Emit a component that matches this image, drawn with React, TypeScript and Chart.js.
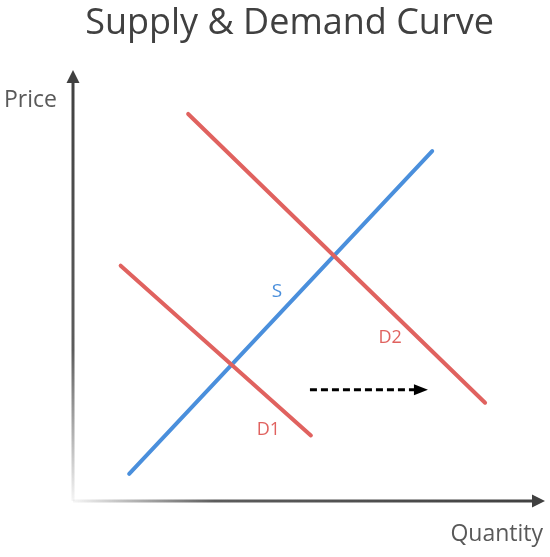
import React, { useEffect, useRef } from "react";
import { Chart, registerables } from "chart.js";

Chart.register(...registerables);

// Data space: quantity 0..100, price 0..100
const supplyX = [11.9, 76.1];
const supplyY = [6.3, 81.2];
const demand1X = [10.1, 50.4];
const demand1Y = [54.6, 15.2];
const demand2X = [24.4, 87.3];
const demand2Y = [89.8, 22.8];
const shiftX = [50.2, 75.2];
const shiftY = [25.8, 25.8];
const axisMax = 100;

const lineLabels = ["S", "D1", "D2"];
const labelX = [43.2, 41.4, 67.2];
const labelY = [48.6, 16.4, 37.9];

const titleText = "Supply & Demand Curve";
const xAxisLabel = "Quantity";
const yAxisLabel = "Price";

const BLUE = "#4a8fdc";
const RED = "#e0625f";
const FONT = "'Open Sans', 'Noto Sans', sans-serif";

const pts = (xs: number[], ys: number[]) => xs.map((x, i) => ({ x, y: ys[i] }));

const decorPlugin = {
  id: "decor",
  beforeDatasetsDraw(chart: any) {
    const { ctx, scales } = chart;
    const xs = scales.x;
    const ys = scales.y;
    const ox = xs.getPixelForValue(0);
    const oy = ys.getPixelForValue(0);
    const xEnd = xs.getPixelForValue(axisMax);
    const yEnd = ys.getPixelForValue(axisMax);
    ctx.save();
    // y axis
    let g = ctx.createLinearGradient(0, oy, 0, yEnd);
    g.addColorStop(0, "rgba(64,64,64,0.05)");
    g.addColorStop(0.35, "rgba(64,64,64,0.85)");
    g.addColorStop(1, "rgba(64,64,64,1)");
    ctx.strokeStyle = g;
    ctx.lineWidth = 3;
    ctx.beginPath();
    ctx.moveTo(ox, oy);
    ctx.lineTo(ox, yEnd + 10);
    ctx.stroke();
    ctx.fillStyle = "#404040";
    ctx.beginPath();
    ctx.moveTo(ox, yEnd);
    ctx.lineTo(ox - 6.5, yEnd + 13);
    ctx.lineTo(ox + 6.5, yEnd + 13);
    ctx.closePath();
    ctx.fill();
    // x axis
    g = ctx.createLinearGradient(ox, 0, xEnd, 0);
    g.addColorStop(0, "rgba(64,64,64,0.05)");
    g.addColorStop(0.3, "rgba(64,64,64,0.85)");
    g.addColorStop(1, "rgba(64,64,64,1)");
    ctx.strokeStyle = g;
    ctx.beginPath();
    ctx.moveTo(ox, oy);
    ctx.lineTo(xEnd - 10, oy);
    ctx.stroke();
    ctx.beginPath();
    ctx.moveTo(xEnd, oy);
    ctx.lineTo(xEnd - 13, oy - 6.5);
    ctx.lineTo(xEnd - 13, oy + 6.5);
    ctx.closePath();
    ctx.fill();
    ctx.restore();
  },
  afterDatasetsDraw(chart: any) {
    const { ctx, scales } = chart;
    const xs = scales.x;
    const ys = scales.y;
    ctx.save();
    // shift arrowhead
    const tx = xs.getPixelForValue(shiftX[1]);
    const ty = ys.getPixelForValue(shiftY[1]);
    ctx.fillStyle = "#000";
    ctx.beginPath();
    ctx.moveTo(tx, ty);
    ctx.lineTo(tx - 14, ty - 5.5);
    ctx.lineTo(tx - 14, ty + 5.5);
    ctx.closePath();
    ctx.fill();
    // line labels
    ctx.textAlign = "center";
    ctx.textBaseline = "middle";
    lineLabels.forEach((t, i) => {
      ctx.fillStyle = i === 0 ? BLUE : RED;
      ctx.font = `${i === 0 ? 19 : 18}px ${FONT}`;
      ctx.fillText(t, xs.getPixelForValue(labelX[i]), ys.getPixelForValue(labelY[i]));
    });
    // title
    ctx.fillStyle = "#404040";
    ctx.textBaseline = "alphabetic";
    ctx.font = `36px ${FONT}`;
    ctx.fillText(titleText, 289.5, 34);
    // axis labels
    ctx.fillStyle = "#595959";
    ctx.font = `23px ${FONT}`;
    ctx.textAlign = "left";
    ctx.fillText(yAxisLabel, 4, 107);
    ctx.textAlign = "right";
    ctx.fillText(xAxisLabel, 543, 541);
    ctx.restore();
  },
};

export default function App() {
  const ref = useRef<HTMLCanvasElement>(null);
  useEffect(() => {
    document.body.style.margin = "0";
    const canvas = ref.current!;
    const lineDs = (label: string, data: any[], color: string, extra: any = {}) => ({
      label,
      data,
      showLine: true,
      borderColor: color,
      backgroundColor: color,
      borderWidth: 4,
      borderCapStyle: "round",
      pointRadius: 0,
      clip: false,
      ...extra,
    });
    const chart = new Chart(canvas, {
      type: "scatter",
      data: {
        datasets: [
          lineDs("D1", pts(demand1X, demand1Y), RED),
          lineDs("D2", pts(demand2X, demand2Y), RED),
          lineDs("S", pts(supplyX, supplyY), BLUE),
          lineDs("shift", pts([shiftX[0], shiftX[1] - 2.2], shiftY), "#000", {
            borderWidth: 3,
            borderDash: [7, 4],
            borderCapStyle: "butt",
          }),
        ],
      },
      options: {
        responsive: false,
        animation: false,
        devicePixelRatio: 1,
        layout: { padding: { left: 73, right: 5, top: 70, bottom: 56 } },
        plugins: { legend: { display: false }, title: { display: false }, tooltip: { enabled: false } },
        scales: {
          x: { type: "linear", min: 0, max: axisMax, display: false },
          y: { type: "linear", min: 0, max: axisMax, display: false },
        },
      } as any,
      plugins: [decorPlugin],
    });
    return () => chart.destroy();
  }, []);
  return <canvas ref={ref} width={550} height={557} style={{ display: "block" }} />;
}
